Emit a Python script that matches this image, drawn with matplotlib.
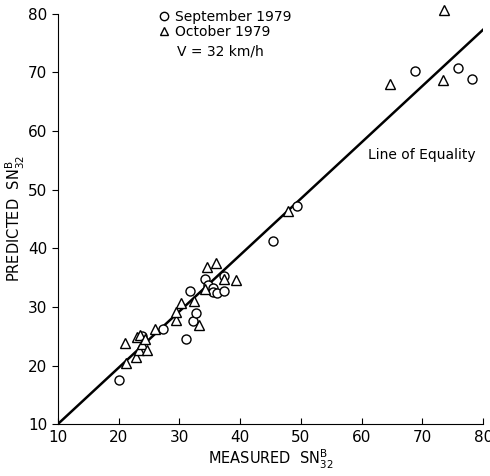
import numpy as np
import matplotlib.pyplot as plt
from matplotlib.lines import Line2D

plt.rcParams["font.family"] = "DejaVu Sans"

# September 1979 (circles)
sep_x = [20.0, 23.8, 27.3, 31.1, 31.7, 32.3, 32.7, 34.3, 34.7, 35.6, 35.5, 36.2,
         37.3, 37.3, 45.4, 49.4, 68.8, 75.8, 78.1]
sep_y = [17.6, 25.0, 26.3, 24.5, 32.7, 27.6, 29.0, 34.8, 33.8, 33.3, 32.6, 32.4,
         32.7, 35.3, 41.2, 47.2, 70.3, 70.7, 68.9]

# October 1979 (triangles)
oct_x = [21.2, 21.1, 22.8, 23.0, 23.4, 23.6, 23.8, 24.3, 24.6, 26.0, 29.4, 29.4,
         30.2, 32.4, 33.2, 34.2, 34.5, 36.0, 37.3, 39.3, 47.9, 64.6, 73.4, 73.5]
oct_y = [20.4, 23.8, 21.5, 24.8, 22.6, 25.2, 23.6, 24.6, 22.6, 26.2, 27.7, 29.2,
         30.7, 31.0, 26.9, 33.0, 36.8, 37.5, 34.7, 34.6, 46.3, 68.1, 68.7, 80.6]

# line of equality endpoints
eq_x = [10, 80]
eq_y = [10, 77.3]

fig = plt.figure(figsize=(4.9, 4.76), dpi=100)
ax = fig.add_axes([0.118, 0.109, 0.868, 0.862])

ax.plot(eq_x, eq_y, color='black', lw=1.8, zorder=1)
ax.plot(sep_x, sep_y, 'o', mfc='white', mec='black', mew=1.0, ms=6.5, ls='none',
        zorder=2, clip_on=False)
ax.plot(oct_x, oct_y, '^', mfc='white', mec='black', mew=1.0, ms=7, ls='none',
        zorder=3, clip_on=False)

ax.set_xlim(10, 80)
ax.set_ylim(10, 80)
ax.set_xticks(np.arange(10, 81, 10))
ax.set_yticks(np.arange(10, 81, 10))
ax.spines['top'].set_visible(False)
ax.spines['right'].set_visible(False)
ax.tick_params(axis='x', direction='in', length=4, labelsize=11, pad=4)
ax.tick_params(axis='y', direction='out', length=4, labelsize=11)

ax.set_xlabel(r'MEASURED  SN$^{\mathrm{B}}_{32}$', fontsize=10.5, labelpad=2)
ax.set_ylabel(r'PREDICTED  SN$^{\mathrm{B}}_{32}$', fontsize=10.5, labelpad=1)

handles = [Line2D([], [], marker='o', ls='none', mfc='white', mec='black', ms=6),
           Line2D([], [], marker='^', ls='none', mfc='white', mec='black', ms=6)]
ax.legend(handles, ['September 1979', 'October 1979'], loc='upper left',
          bbox_to_anchor=(0.2, 1.04), frameon=False, fontsize=10,
          handletextpad=0.2, labelspacing=0.1, handlelength=1.2)
ax.text(0.28, 0.925, 'V = 32 km/h', transform=ax.transAxes, fontsize=10, va='top')
ax.text(61, 55.9, 'Line of Equality', fontsize=10, va='center')

fig.savefig('out.png', dpi=100)
